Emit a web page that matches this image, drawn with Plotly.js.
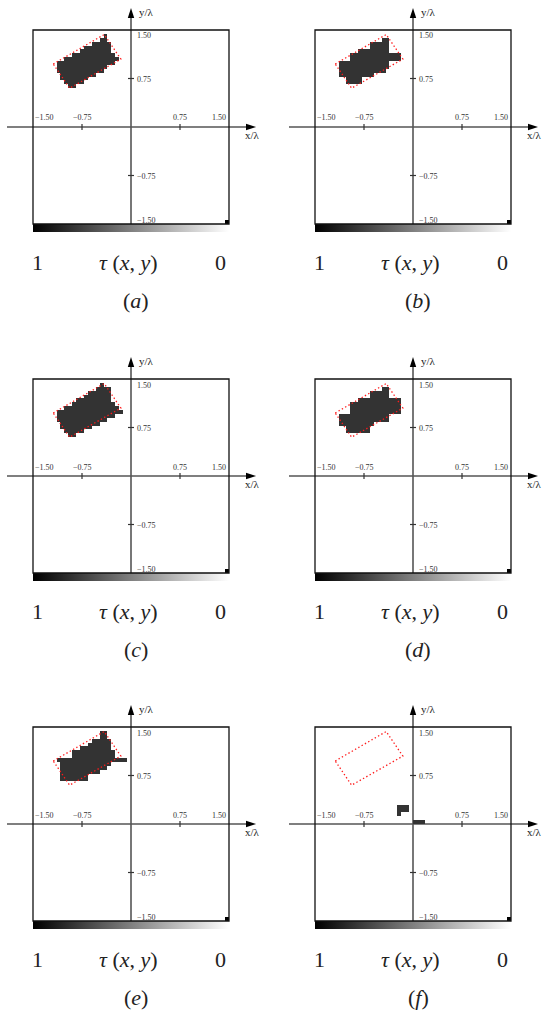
<!DOCTYPE html>
<html>
<head>
<meta charset="utf-8">
<script src="https://cdn.plot.ly/plotly-3.0.1.min.js"></script>
<style>
  html, body { margin: 0; padding: 0; background: #ffffff; }
  #chart { width: 546px; height: 1011px; }
</style>
</head>
<body>
<div id="chart"></div>
<script>
// Reconstruction grid: 50 x 50 cells covering [-1.5, 1.5] λ in x and y
const gridN = 50;
const gridMin = -1.5;
const cellSize = 0.06;

const panelLetters = ['a', 'b', 'c', 'd', 'e', 'f'];

// Reconstructed cells per panel: [row counted from the top, first column, last column]
const blobA = [[1,18,18],[2,17,18],[3,15,19],[4,13,19],[5,12,19],[6,10,20],[7,8,21],
               [8,6,20],[9,6,18],[10,6,17],[11,7,15],[12,7,13],[13,8,12],[14,9,10]];
const blobB = [[2,17,18],[3,14,18],[4,14,18],[5,11,18],[6,9,21],[7,9,21],[8,6,18],
               [9,6,18],[10,6,17],[11,6,14],[12,8,11],[13,8,11]];
const blobC = [[1,17,17],[2,16,19],[3,14,19],[4,13,19],[5,11,19],[6,10,20],[7,8,21],
               [8,6,22],[9,6,20],[10,6,18],[11,7,16],[12,7,14],[13,8,12],[14,9,10]];
const blobD = [[2,17,18],[3,14,18],[4,14,18],[5,11,21],[6,9,21],[7,9,21],
               [8,9,21],[9,6,18],[10,6,18],[11,6,14],[12,8,13],[13,8,13]];
const blobE = [[1,17,18],[2,17,18],[3,15,19],[4,14,19],[5,12,19],[6,10,20],[7,10,20],
               [8,6,23],[9,7,19],[10,7,18],[11,7,16],[12,7,13],[13,7,13]];
const blobF = [[20,21,23],[21,21,23],[22,21,21],[24,25,27]];
const panelBlobs = [blobA, blobB, blobC, blobD, blobE, blobF];

// τ value of the reconstructed cells, and of the reference cell in the lower-right corner
const blobTau = 0.8;
const cornerCell = [49, 49, 49];
const cornerTau = 1;

// True scatterer outline (corners, in λ)
const targetX = [-1.19, -0.41, -0.155, -0.94];
const targetY = [0.975, 1.43, 1.05, 0.6];

// Tick marks and labels
const tickMarks = [-0.75, 0.75];
const tickLabelVals = [-1.5, -0.75, 0.75, 1.5];
const tickLabelText = ['\u22121.50', '\u22120.75', '0.75', '1.50'];

// Colour scale for τ: 0 -> white, 1 -> black
const tauScale = [[0, '#ffffff'], [1, '#000000']];

// ---------- page geometry (pixels) ----------
const W = 546, H = 1011;
const boxLeft = [33, 315];
const boxTop = [30, 379, 727];
const boxW = 196, boxH = 194;
const sx = boxW / 3, sy = boxH / 3;          // pixels per λ
const padL = 30, padR = 32, padT = 26, padB = 12;

const serif = "'Liberation Serif', 'DejaVu Serif', serif";
const axisGrey = '#555555';

const cellCenters = [];
for (let i = 0; i < gridN; i++) cellCenters.push(gridMin + cellSize * (i + 0.5));

function buildGrid(runs) {
  const z = [];
  for (let j = 0; j < gridN; j++) z.push(new Array(gridN).fill(null));
  const put = (run, val) => {
    const j = gridN - 1 - run[0];
    for (let i = run[1]; i <= run[2]; i++) z[j][i] = val;
  };
  runs.forEach(r => put(r, blobTau));
  put(cornerCell, cornerTau);
  return z;
}

const traces = [];
const shapes = [];
const annotations = [];
const layout = {
  width: W, height: H,
  margin: {l: 0, r: 0, t: 0, b: 0},
  paper_bgcolor: '#ffffff',
  plot_bgcolor: 'rgba(0,0,0,0)',
  showlegend: false,
  font: {family: serif, color: '#222'}
};

panelLetters.forEach((letter, p) => {
  const col = p % 2, row = Math.floor(p / 2);
  const n = p + 1;
  const sfx = n === 1 ? '' : String(n);
  const xa = 'x' + sfx, ya = 'y' + sfx;

  const L = boxLeft[col], T = boxTop[row];
  layout['xaxis' + sfx] = {
    domain: [(L - padL) / W, (L + boxW + padR) / W],
    range: [-1.5 - padL / sx, 1.5 + padR / sx],
    visible: false, fixedrange: true, anchor: ya
  };
  layout['yaxis' + sfx] = {
    domain: [1 - (T + boxH + padB) / H, 1 - (T - padT) / H],
    range: [-1.5 - padB / sy, 1.5 + padT / sy],
    visible: false, fixedrange: true, anchor: xa
  };

  // reconstructed τ(x, y)
  traces.push({
    type: 'heatmap', xaxis: xa, yaxis: ya,
    x: cellCenters, y: cellCenters, z: buildGrid(panelBlobs[p]),
    zmin: 0, zmax: 1, colorscale: tauScale, showscale: false,
    hoverinfo: 'skip'
  });

  // τ colour bar under the frame: 1 (black) on the left, 0 (white) on the right
  const barH = 8 / sy;
  traces.push({
    type: 'scatter', mode: 'none', xaxis: xa, yaxis: ya,
    x: [-1.5, 1.5, 1.5, -1.5, -1.5],
    y: [-1.5, -1.5, -1.5 - barH, -1.5 - barH, -1.5],
    fill: 'toself',
    fillgradient: {
      type: 'horizontal',
      colorscale: tauScale.map(s => [1 - s[0], s[1]]).reverse()
    },
    hoverinfo: 'skip'
  });

  // true scatterer outline
  traces.push({
    type: 'scatter', mode: 'lines', xaxis: xa, yaxis: ya,
    x: targetX.concat([targetX[0]]),
    y: targetY.concat([targetY[0]]),
    line: {color: '#ff1a1a', width: 1.3, dash: '1.4px,2.4px'},
    hoverinfo: 'skip'
  });

  // coordinate axes through the origin
  const xStart = -1.5 - 26 / sx, xTip = 1.5 + 27 / sx;
  const yTip = 1.5 + 22 / sy;
  const headL = 10, headW = 3.2;
  shapes.push({type: 'line', xref: xa, yref: ya, layer: 'below',
    x0: xStart, x1: xTip - 4 / sx, y0: 0, y1: 0, line: {color: axisGrey, width: 1.6}});
  shapes.push({type: 'line', xref: xa, yref: ya, layer: 'below',
    x0: 0, x1: 0, y0: -1.5, y1: yTip - 4 / sy, line: {color: axisGrey, width: 1.6}});
  shapes.push({type: 'path', xref: xa, yref: ya, layer: 'above',
    path: `M ${xTip},0 L ${xTip - headL / sx},${headW / sy} L ${xTip - headL / sx},${-headW / sy} Z`,
    fillcolor: '#000', line: {width: 0}});
  shapes.push({type: 'path', xref: xa, yref: ya, layer: 'above',
    path: `M 0,${yTip} L ${headW / sx},${yTip - headL / sy} L ${-headW / sx},${yTip - headL / sy} Z`,
    fillcolor: '#000', line: {width: 0}});

  // tick marks
  tickMarks.forEach(v => {
    shapes.push({type: 'line', xref: xa, yref: ya, layer: 'above',
      x0: v, x1: v, y0: -3 / sy, y1: 3 / sy, line: {color: '#333', width: 1.2}});
    shapes.push({type: 'line', xref: xa, yref: ya, layer: 'above',
      x0: -3 / sx, x1: 3 / sx, y0: v, y1: v, line: {color: '#333', width: 1.2}});
  });

  // frame
  shapes.push({type: 'rect', xref: xa, yref: ya, layer: 'above',
    x0: -1.5, x1: 1.5, y0: -1.5, y1: 1.5, line: {color: '#111', width: 1.3}});

  // tick labels
  const tickFont = {family: serif, size: 8, color: '#333'};
  const xShifts = [11, 0, 0, -10];
  const yShifts = [3.5, -1, -1, -6];
  tickLabelVals.forEach((v, k) => {
    annotations.push({xref: xa, yref: ya, x: v, y: 0, text: tickLabelText[k],
      showarrow: false, font: tickFont, xanchor: 'center', yanchor: 'middle',
      xshift: xShifts[k], yshift: 9});
    annotations.push({xref: xa, yref: ya, x: 0, y: v, text: tickLabelText[k],
      showarrow: false, font: tickFont, xanchor: 'left', yanchor: 'middle',
      xshift: 4, yshift: yShifts[k]});
  });

  // axis titles
  const titleFont = {family: serif, size: 11, color: '#222'};
  annotations.push({xref: xa, yref: ya, x: 0, y: yTip, text: 'y/\u03bb',
    showarrow: false, font: titleFont, xanchor: 'left', yanchor: 'middle',
    xshift: 6, yshift: -4});
  annotations.push({xref: xa, yref: ya, x: xTip, y: 0, text: 'x/\u03bb',
    showarrow: false, font: titleFont, xanchor: 'right', yanchor: 'middle',
    xshift: 6, yshift: -8});

  // colour bar caption and panel label
  const bigFont = {family: serif, size: 22, color: '#222'};
  annotations.push({xref: xa, yref: ya, x: -1.5, y: -1.5, text: '1',
    showarrow: false, font: bigFont, xanchor: 'center', yanchor: 'middle',
    xshift: 4, yshift: -38});
  annotations.push({xref: xa, yref: ya, x: 0, y: -1.5,
    text: '<i>\u03c4</i> (<i>x</i>, <i>y</i>)',
    showarrow: false, font: bigFont, xanchor: 'center', yanchor: 'middle',
    xshift: -3, yshift: -38});
  annotations.push({xref: xa, yref: ya, x: 1.5, y: -1.5, text: '0',
    showarrow: false, font: bigFont, xanchor: 'center', yanchor: 'middle',
    xshift: -9, yshift: -38});
  annotations.push({xref: xa, yref: ya, x: 0, y: -1.5,
    text: '(<i>' + letter + '</i>)',
    showarrow: false, font: bigFont, xanchor: 'center', yanchor: 'middle',
    xshift: 5, yshift: -76});
});

layout.shapes = shapes;
layout.annotations = annotations;

Plotly.newPlot('chart', traces, layout, {staticPlot: true, displayModeBar: false});
</script>
</body>
</html>
